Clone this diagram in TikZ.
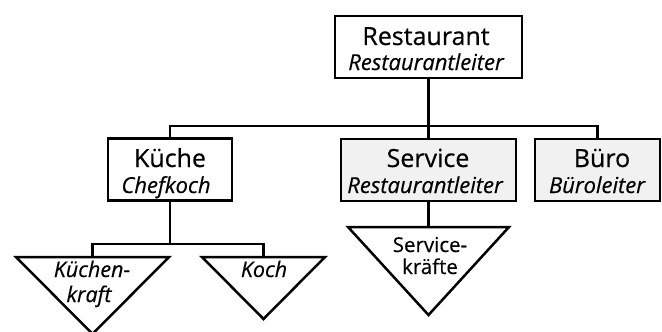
\documentclass[tikz,border=0pt]{standalone}
\usepackage{fontspec}
\setmainfont{Open Sans}
\definecolor{boxgray}{RGB}{241,241,241}
\begin{document}
\begin{tikzpicture}[x=1pt,y=-1pt,line width=2.5pt,
  box/.style={draw,line width=2.5pt,minimum height=62pt,inner sep=0pt,minimum width=#1},
  graybox/.style={box=#1,fill=boxgray},
  big/.style={anchor=base,inner sep=0pt,font=\fontsize{25}{27}\selectfont\addfontfeature{FakeBold=0.4}},
  sub/.style={anchor=base,inner sep=0pt,font=\fontsize{22}{24}\selectfont\itshape\addfontfeature{FakeBold=0.4}},
  tri/.style={draw,line width=2.5pt,line join=miter},
  small/.style={anchor=base,inner sep=0pt,font=\fontsize{20.5}{22}\selectfont\addfontfeature{FakeBold=0.4}},
  smalli/.style={anchor=base,inner sep=0pt,font=\fontsize{21.5}{23}\selectfont\itshape\addfontfeature{FakeBold=0.4}}]
\useasboundingbox (0,0) rectangle (662,332);
% boxes
\node[box=187pt] (rest) at (428.5,47) {};
\node[box=124pt] (kueche) at (170,169.5) {};
\node[graybox=175pt] (service) at (428.5,170) {};
\node[graybox=125pt] (buero) at (597.5,170) {};
% box texts
\node[big] (t1) at (426,45) {Restaurant};
\node[sub] (t2) at (426,70) {Restaurantleiter};
\node[big] (t3) at (170,167) {Küche};
\node[sub] (t4) at (166,193) {Chefkoch};
\node[big] (t5) at (428,167) {Service};
\node[sub] (t6) at (425,193) {Restaurantleiter};
\node[big] (t7) at (602,167) {Büro};
\node[sub] (t8) at (597,193) {Büroleiter};
% triangles
\coordinate (kk) at (92.5,257);
\coordinate (koch) at (263.5,257);
\coordinate (sk) at (428.5,227);
\draw[tri] (16,257) -- (169,257) -- (92.5,334) -- cycle;
\draw[tri] (202,257) -- (325,257) -- (263.5,319) -- cycle;
\draw[tri] (348,227) -- (509,227) -- (428.5,315) -- cycle;
\node[smalli] (t9) at (92,277) {Küchen-};
\node[smalli] (t10) at (89,302) {kraft};
\node[smalli] (t11) at (264,277) {Koch};
\node[small] (t12) at (430,252) {Service-};
\node[small] (t13) at (430,274) {kräfte};
% connectors
\coordinate (bus) at (428.5,126);
\coordinate (kbus) at (170,244);
\draw (rest.south) -- (service.north);
\draw (kueche.north) |- (bus) -| (buero.north);
\draw (kueche.south) -- (kbus);
\draw (kk) |- (kbus) -| (koch);
\draw (service.south) -- (sk);
\end{tikzpicture}
\end{document}
